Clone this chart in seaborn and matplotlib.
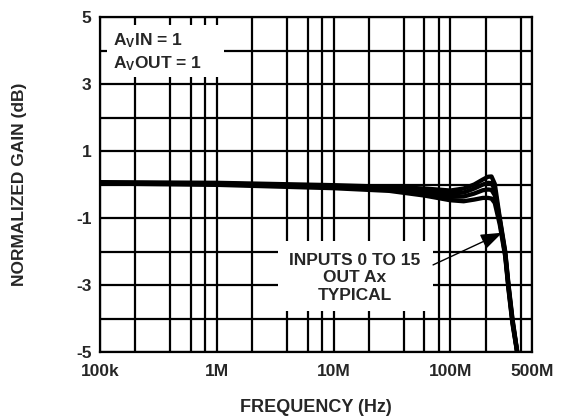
import numpy as np
import pandas as pd
import matplotlib
matplotlib.use("Agg")
import matplotlib.pyplot as plt
from matplotlib.ticker import LogLocator, FixedLocator, NullFormatter, FixedFormatter
from matplotlib.patches import Rectangle
import seaborn as sns

# ---- data ----
freq_hz = [1e5, 1e6, 1e7, 3e7, 6e7, 1e8, 1.3e8, 1.6e8, 1.9e8, 2.1e8, 2.25e8,
           2.4e8, 2.65e8, 2.95e8, 3.15e8, 3.4e8, 3.85e8]
gain_ch_a = [0.07, 0.05, -0.02, -0.07, -0.12, -0.18, -0.12, 0.00, 0.15, 0.23, 0.24,
             0.02, -1.0, -2.0, -3.0, -4.0, -5.3]
gain_ch_b = [0.05, 0.03, -0.05, -0.11, -0.20, -0.27, -0.24, -0.12, 0.00, 0.05, 0.04,
             -0.15, -1.05, -2.05, -3.05, -4.05, -5.3]
gain_ch_c = [0.04, 0.01, -0.08, -0.15, -0.27, -0.37, -0.36, -0.27, -0.17, -0.15, -0.16,
             -0.32, -1.1, -2.1, -3.1, -4.1, -5.3]
gain_ch_d = [0.03, -0.01, -0.11, -0.19, -0.33, -0.47, -0.50, -0.45, -0.40, -0.40, -0.42,
             -0.55, -1.2, -2.15, -3.15, -4.15, -5.3]

x_ticks = [1e5, 1e6, 1e7, 1e8, 5e8]
x_tick_labels = ["100k", "1M", "10M", "100M", "500M"]
y_ticks = [-5, -3, -1, 1, 3, 5]
y_tick_labels = ["-5", "-3", "-1", "1", "3", "5"]

curves = {"a": gain_ch_a, "b": gain_ch_b, "c": gain_ch_c, "d": gain_ch_d}
df = pd.concat([pd.DataFrame({"freq": freq_hz, "gain": g, "ch": k}) for k, g in curves.items()],
               ignore_index=True)

sns.set_style("white")
plt.rcParams["font.family"] = ["Liberation Sans", "DejaVu Sans"]
plt.rcParams["font.weight"] = "bold"
plt.rcParams["mathtext.fontset"] = "custom"
plt.rcParams["mathtext.rm"] = "Liberation Sans:bold"
plt.rcParams["mathtext.default"] = "rm"

FS = 12.5

fig = plt.figure(figsize=(5.63, 4.17), dpi=100)
ax = fig.add_axes([100 / 563, 1 - 352 / 417, 432 / 563, 335 / 417])
ax.set_xscale("log")

sns.lineplot(data=df, x="freq", y="gain", hue="ch", palette=["black"] * 4,
             estimator=None, sort=False, linewidth=3.1, legend=False, ax=ax, zorder=5)

ax.set_xlim(1e5, 5e8)
ax.set_ylim(-5, 5)

ax.xaxis.set_major_locator(FixedLocator(x_ticks))
ax.xaxis.set_major_formatter(FixedFormatter(x_tick_labels))
ax.xaxis.set_minor_locator(LogLocator(base=10, subs=[2, 4, 6, 8], numticks=20))
ax.xaxis.set_minor_formatter(NullFormatter())
ax.yaxis.set_major_locator(FixedLocator(y_ticks))
ax.yaxis.set_major_formatter(FixedFormatter(y_tick_labels))
ax.yaxis.set_minor_locator(FixedLocator([-4, -2, 0, 2, 4]))

ax.grid(True, which="both", color="black", linewidth=1.6)
ax.set_axisbelow(True)
ax.tick_params(which="both", length=0, labelsize=FS)
ax.tick_params(axis="x", pad=9)
ax.tick_params(axis="y", pad=6)
for s in ax.spines.values():
    s.set_color("black")
    s.set_linewidth(1.6)
    s.set_zorder(6)

ax.set_xlabel("FREQUENCY (Hz)", fontsize=13, fontweight="bold", va="center")
ax.set_ylabel("NORMALIZED GAIN (dB)", fontsize=FS, fontweight="bold", va="center")
ax.xaxis.set_label_coords(0.5, (352 - 407) / 335)
ax.yaxis.set_label_coords((20 - 100) / 432, 0.5)

# white annotation boxes
ax.add_patch(Rectangle((0.016, 0.82), 0.27, 0.156, transform=ax.transAxes,
                       facecolor="white", edgecolor="none", zorder=3))
ax.add_patch(Rectangle((0.412, 0.123), 0.359, 0.209, transform=ax.transAxes,
                       facecolor="white", edgecolor="none", zorder=3))

ax.text(0.030, 0.928, r"A$_{\mathrm{V}}$IN = 1", transform=ax.transAxes,
        ha="left", va="center", fontsize=FS, fontweight="bold", zorder=4)
ax.text(0.030, 0.862, r"A$_{\mathrm{V}}$OUT = 1", transform=ax.transAxes,
        ha="left", va="center", fontsize=FS, fontweight="bold", zorder=4)
ax.text(0.590, 0.222, "INPUTS 0 TO 15\nOUT Ax\nTYPICAL", transform=ax.transAxes,
        ha="center", va="center", fontsize=FS, fontweight="bold", linespacing=1.2, zorder=4)

ax.annotate("", xy=(0.931, 0.356), xytext=(0.771, 0.260), xycoords="axes fraction",
            textcoords="axes fraction",
            arrowprops=dict(arrowstyle="-|>,head_length=1.1,head_width=0.4",
                            mutation_scale=12, color="black", lw=1.0,
                            shrinkA=0, shrinkB=0), zorder=7)

fig.savefig("out.png", dpi=100)
